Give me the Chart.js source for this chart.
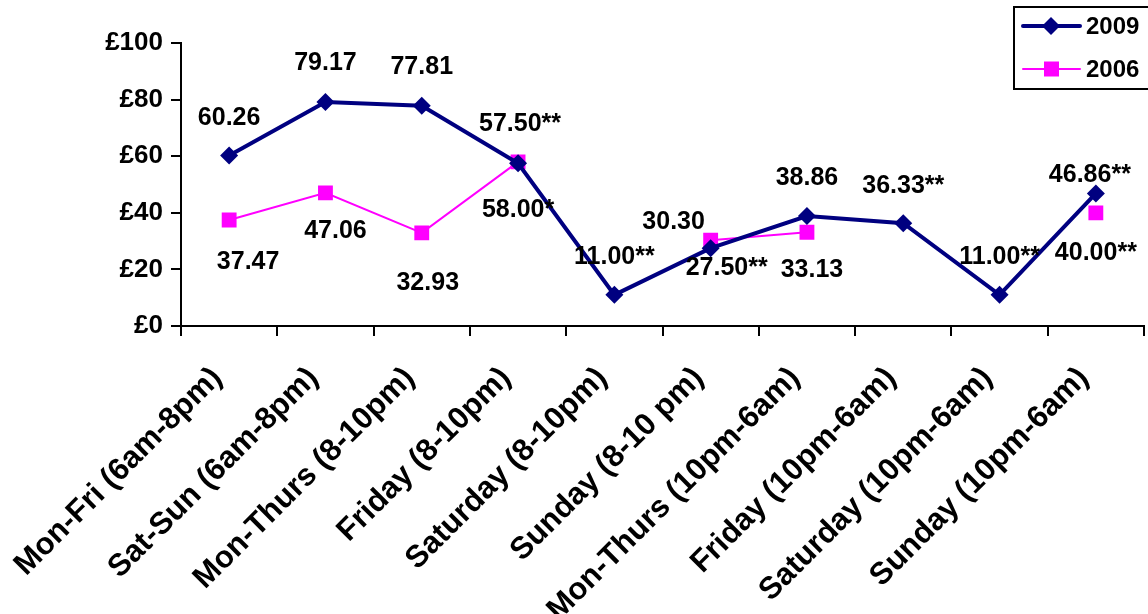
<!DOCTYPE html>
<html>
<head>
<meta charset="UTF-8">
<title>Average spend by time of week, 2009 vs 2006</title>
<script src="https://cdn.jsdelivr.net/npm/chart.js@4.4.0/dist/chart.umd.min.js"></script>
<style>
    html, body { margin: 0; padding: 0; background: #fff; }
    #wrap { width: 1148px; height: 614px; }
</style>
</head>
<body>
<div id="wrap"><canvas id="chart" width="1148" height="614"></canvas></div>
<script>
// categories along the x axis
var categories = ['Mon-Fri (6am-8pm)', 'Sat-Sun (6am-8pm)', 'Mon-Thurs (8-10pm)', 'Friday (8-10pm)',
    'Saturday (8-10pm)', 'Sunday (8-10 pm)', 'Mon-Thurs (10pm-6am)', 'Friday (10pm-6am)',
    'Saturday (10pm-6am)', 'Sunday (10pm-6am)'];

// series values (null = no 2006 figure)
var values2009 = [60.26, 79.17, 77.81, 57.50, 11.00, 27.50, 38.86, 36.33, 11.00, 46.86];
var values2006 = [37.47, 47.06, 32.93, 58.00, null, 30.30, 33.13, null, null, 40.00];

// printed value labels
var text2009 = ['60.26', '79.17', '77.81', '57.50**', '11.00**', '27.50**', '38.86', '36.33**', '11.00**', '46.86**'];
var text2006 = ['37.47', '47.06', '32.93', '58.00*', '', '30.30', '33.13', '', '', '40.00**'];

// y tick values
var yTicks = [0, 20, 40, 60, 80, 100];

// where each value label sits relative to its point (px)
var offsets2009 = [[0, -37], [0, -39], [0, -39], [2, -39], [0, -38], [16, 20], [0, -38], [0, -37], [0, -38], [-6, -18]];
var offsets2006 = [[19, 42], [10, 38], [6, 50], [0, 48], null, [-37, -18], [5, 38], null, null, [0, 40]];

var NAVY = '#000080';
var MAGENTA = '#FF00FF';
var FAMILY = '"Liberation Sans", Arial, sans-serif';
var FONT = 'bold 25px ' + FAMILY;

Chart.defaults.font.family = FAMILY;
Chart.defaults.color = '#000';

// value labels next to the points
var valueLabels = {
    id: 'valueLabels',
    afterDatasetsDraw: function(chart) {
        var ctx = chart.ctx;
        var sets = [[text2009, offsets2009], [text2006, offsets2006]];
        ctx.save();
        ctx.font = FONT;
        ctx.fillStyle = '#000';
        ctx.textAlign = 'center';
        ctx.textBaseline = 'middle';
        sets.forEach(function(s, di) {
            var meta = chart.getDatasetMeta(di);
            meta.data.forEach(function(pt, i) {
                if (!s[0][i] || !s[1][i]) return;
                ctx.fillText(s[0][i], pt.x + s[1][i][0], pt.y + s[1][i][1]);
            });
        });
        ctx.restore();
    }
};

// boxed legend in the top right corner
var boxLegend = {
    id: 'boxLegend',
    afterDraw: function(chart) {
        var ctx = chart.ctx;
        ctx.save();
        ctx.lineWidth = 2;
        ctx.strokeStyle = '#000';
        ctx.strokeRect(1014, 7, 150, 82);

        var rows = [
            { y: 26, color: NAVY, width: 4, label: '2009', shape: 'diamond' },
            { y: 69, color: MAGENTA, width: 2, label: '2006', shape: 'square' }
        ];
        rows.forEach(function(r) {
            ctx.strokeStyle = r.color;
            ctx.lineWidth = r.width;
            ctx.lineCap = 'round';
            ctx.beginPath();
            ctx.moveTo(1023, r.y);
            ctx.lineTo(1080, r.y);
            ctx.stroke();
            ctx.fillStyle = r.color;
            ctx.beginPath();
            if (r.shape === 'diamond') {
                ctx.moveTo(1051, r.y - 9);
                ctx.lineTo(1060, r.y);
                ctx.lineTo(1051, r.y + 9);
                ctx.lineTo(1042, r.y);
                ctx.closePath();
            } else {
                ctx.rect(1044, r.y - 7.5, 15, 15);
            }
            ctx.fill();
            ctx.fillStyle = '#000';
            ctx.font = 'bold 24px ' + FAMILY;
            ctx.textAlign = 'left';
            ctx.textBaseline = 'middle';
            ctx.fillText(r.label, 1086, r.y + 1);
        });
        ctx.restore();
    }
};

var ctx = document.getElementById('chart').getContext('2d');
var myChart = new Chart(ctx, {
    type: 'line',
    data: {
        labels: categories,
        datasets: [{
            label: '2009',
            data: values2009,
            borderColor: NAVY,
            backgroundColor: NAVY,
            borderWidth: 4,
            pointStyle: 'rectRot',
            pointRadius: 9,
            pointBorderWidth: 0,
            tension: 0
        }, {
            label: '2006',
            data: values2006,
            borderColor: MAGENTA,
            backgroundColor: MAGENTA,
            borderWidth: 2,
            pointStyle: 'rect',
            pointRadius: 10.5,
            pointBorderWidth: 0,
            spanGaps: false,
            tension: 0
        }]
    },
    options: {
        responsive: false,
        animation: false,
        devicePixelRatio: 1,
        layout: { autoPadding: false, padding: { top: 43, right: 4, left: 0, bottom: 0 } },
        plugins: {
            legend: { display: false },
            tooltip: { enabled: false }
        },
        scales: {
            x: {
                offset: true,
                grid: { offset: true, drawOnChartArea: false, drawTicks: true, tickLength: 10, color: '#000', lineWidth: 2 },
                border: { display: true, color: '#000', width: 2 },
                ticks: {
                    autoSkip: false,
                    maxRotation: 45,
                    minRotation: 45,
                    padding: 24,
                    labelOffset: -12,
                    color: '#000',
                    font: { size: 31, weight: 'bold' }
                },
                afterFit: function(scale) {
                    scale.height = 288;
                    scale.paddingLeft = 0;
                    scale.paddingRight = 0;
                }
            },
            y: {
                min: 0,
                max: 100,
                afterBuildTicks: function(scale) {
                    scale.ticks = yTicks.map(function(v) { return { value: v }; });
                },
                grid: { drawOnChartArea: false, drawTicks: true, tickLength: 10, color: '#000', lineWidth: 2 },
                border: { display: true, color: '#000', width: 2 },
                ticks: {
                    padding: 8,
                    color: '#000',
                    font: { size: 26, weight: 'bold' },
                    callback: function(v) { return '£' + v; }
                },
                afterFit: function(scale) { scale.width = 181; }
            }
        }
    },
    plugins: [valueLabels, boxLegend]
});
</script>
</body>
</html>
